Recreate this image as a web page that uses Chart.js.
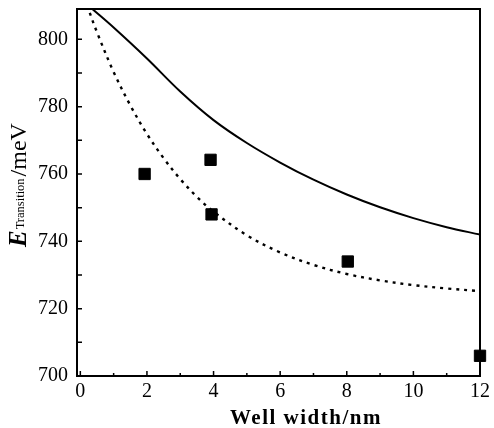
<!DOCTYPE html>
<html lang="en">
<head>
  <meta charset="UTF-8">
  <title>Transition energy vs well width</title>
  <script src="https://cdn.jsdelivr.net/npm/chart.js"></script>
  <style>
    body { margin: 0; background: #fff; }
    #wrap { width: 494px; height: 428px; }
  </style>
</head>
<body>
  <div id="wrap"><canvas id="chart" width="494" height="428"></canvas></div>

  <script>
    // solid curve (calculated)
    const solidX = [0.36, 1, 2, 3, 4, 5, 6, 7, 8, 9, 10, 11, 12];
    const solidY = [809, 803.5, 794.3, 784.5, 776, 769.2, 763.4, 758.3, 753.9, 750.1, 746.9, 744.2, 742];

    // dotted curve (calculated)
    const dotX = [0.2, 0.5, 1, 1.5, 2, 2.5, 3, 3.5, 4, 5, 6, 7, 8, 9, 10, 11, 12];
    const dotY = [810.1, 802.1, 790.3, 780.4, 771.9, 764.7, 758.5, 753.2, 748.8, 741.8, 736.7, 733, 730.3, 728.4, 727, 726, 725.2];

    // measured points
    const measX = [1.93, 3.91, 3.94, 8.03, 12];
    const measY = [760, 764.2, 748, 734, 706];

    const xTicks = [0, 2, 4, 6, 8, 10, 12];
    const xMinor = [1, 3, 5, 7, 9, 11];
    const yTicks = [700, 720, 740, 760, 780, 800];
    const yMinor = [710, 730, 750, 770, 790];

    const pts = (xs, ys) => xs.map((x, i) => ({ x: x, y: ys[i] }));
    const serif = '"Liberation Serif", "DejaVu Serif", serif';

    // frame, inward ticks and axis titles
    const decor = {
      id: 'decor',
      afterDatasetsDraw(chart) {
        const ctx = chart.ctx;
        const a = chart.chartArea;
        const sx = chart.scales.x, sy = chart.scales.y;
        ctx.save();
        ctx.strokeStyle = '#000';
        ctx.lineWidth = 2;
        ctx.strokeRect(a.left, a.top, a.right - a.left, a.bottom - a.top);

        ctx.lineWidth = 1.5;
        ctx.beginPath();
        xTicks.forEach(v => { const p = sx.getPixelForValue(v); ctx.moveTo(p, a.bottom); ctx.lineTo(p, a.bottom - 5); });
        xMinor.forEach(v => { const p = sx.getPixelForValue(v); ctx.moveTo(p, a.bottom); ctx.lineTo(p, a.bottom - 3); });
        yTicks.forEach(v => { const p = sy.getPixelForValue(v); ctx.moveTo(a.left, p); ctx.lineTo(a.left + 5, p); });
        yMinor.forEach(v => { const p = sy.getPixelForValue(v); ctx.moveTo(a.left, p); ctx.lineTo(a.left + 5, p); });
        ctx.stroke();

        // x title
        ctx.fillStyle = '#000';
        ctx.font = 'bold 21px ' + serif;
        ctx.letterSpacing = '1.5px';
        ctx.textAlign = 'center';
        ctx.textBaseline = 'alphabetic';
        ctx.fillText('Well width/nm', 306, 424);
        ctx.letterSpacing = '0px';

        // y title, rotated, with subscript
        ctx.translate(26, 247);
        ctx.rotate(-Math.PI / 2);
        ctx.textAlign = 'left';
        let u = 0;
        ctx.font = 'italic bold 25px ' + serif;
        ctx.fillText('E', u, 0); u += ctx.measureText('E').width + 1;
        ctx.font = '12.5px ' + serif;
        ctx.fillText('Transition', u, -2); u += ctx.measureText('Transition').width + 2;
        ctx.font = '24px ' + serif;
        ctx.fillText('/meV', u, 0);
        ctx.restore();
      }
    };

    new Chart(document.getElementById('chart'), {
      type: 'scatter',
      data: {
        datasets: [
          {
            label: 'solid',
            data: pts(solidX, solidY),
            showLine: true,
            borderColor: '#000',
            borderWidth: 2,
            pointRadius: 0,
            tension: 0.35
          },
          {
            label: 'dotted',
            data: pts(dotX, dotY),
            showLine: true,
            borderColor: '#000',
            borderWidth: 2.4,
            borderDash: [3, 5],
            pointRadius: 0,
            tension: 0.35
          },
          {
            label: 'measured',
            data: pts(measX, measY),
            showLine: false,
            pointStyle: 'rect',
            pointRadius: 8,
            backgroundColor: '#000',
            borderColor: '#000',
            borderWidth: 1,
            clip: false
          }
        ]
      },
      options: {
        responsive: false,
        animation: false,
        layout: { padding: { left: 0, top: 9, right: 14, bottom: 0 } },
        plugins: { legend: { display: false }, tooltip: { enabled: false } },
        scales: {
          x: {
            type: 'linear',
            min: -0.1,
            max: 12,
            grid: { display: false, drawTicks: false },
            border: { display: false },
            ticks: {
              stepSize: 2,
              includeBounds: false,
              maxRotation: 0,
              padding: 4,
              color: '#000',
              font: { family: serif, size: 20 }
            },
            afterFit(scale) {
              scale.height = 52;
              scale.paddingLeft = 0;
              scale.paddingRight = 0;
            }
          },
          y: {
            type: 'linear',
            min: 700,
            max: 809,
            grid: { display: false, drawTicks: false },
            border: { display: false },
            ticks: {
              stepSize: 20,
              includeBounds: false,
              padding: 9,
              color: '#000',
              font: { family: serif, size: 20 }
            },
            afterFit(scale) {
              scale.width = 77;
              scale.paddingTop = 0;
              scale.paddingBottom = 0;
            }
          }
        }
      },
      plugins: [decor]
    });
  </script>
</body>
</html>
